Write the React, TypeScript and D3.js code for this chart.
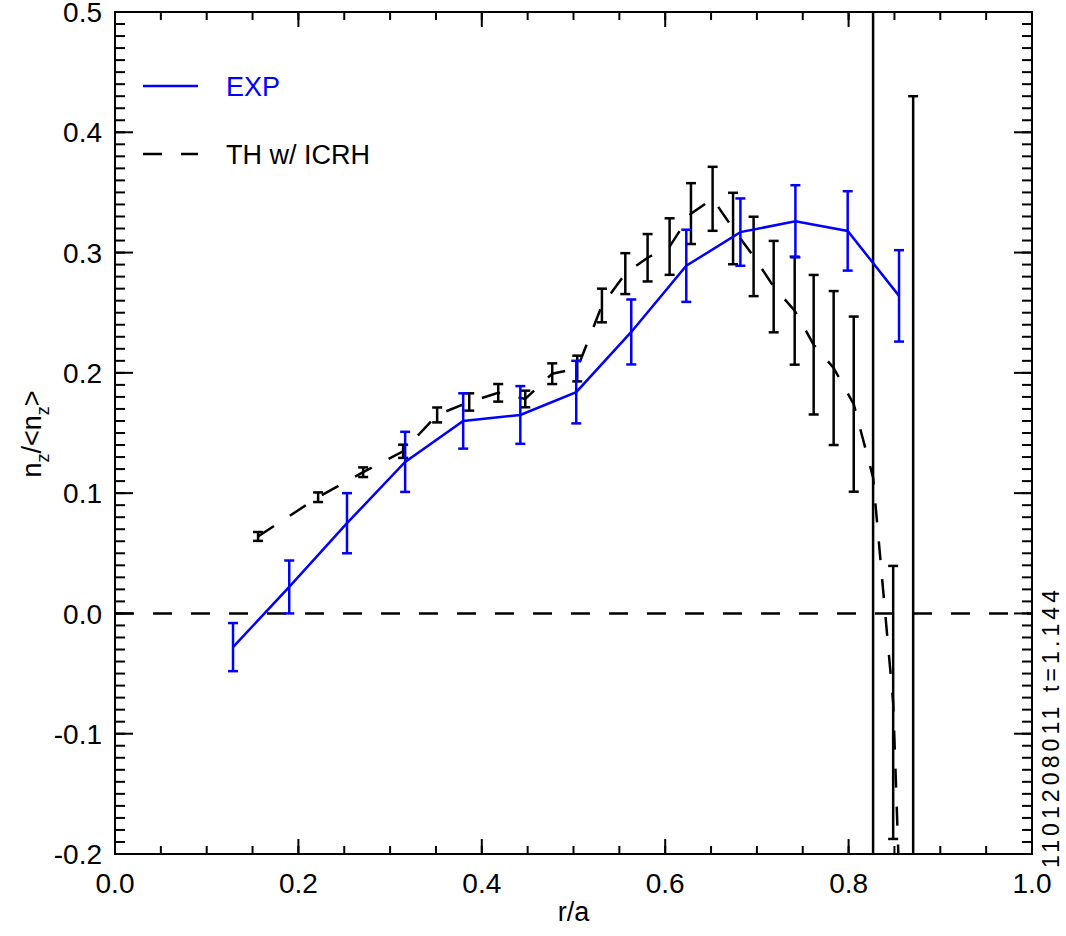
import React from 'react';
import * as d3 from 'd3';

// Experimental profile (blue)
const expR = [0.1287, 0.19, 0.253, 0.3164, 0.3797, 0.442, 0.503, 0.563, 0.623, 0.682, 0.742, 0.799, 0.855];
const expN = [-0.028, 0.022, 0.075, 0.126, 0.16, 0.165, 0.184, 0.234, 0.289, 0.317, 0.326, 0.318, 0.264];
const expErr = [0.02, 0.022, 0.025, 0.025, 0.023, 0.024, 0.026, 0.027, 0.03, 0.028, 0.03, 0.033, 0.038];

// Theory with ICRH (black dashed)
const thR = [0.156, 0.2215, 0.2706, 0.3142, 0.3513, 0.3863, 0.4179, 0.4474, 0.4768, 0.5041, 0.531, 0.5565, 0.5808, 0.6048, 0.6281, 0.6517, 0.674, 0.6964, 0.7183, 0.7412, 0.7619, 0.7837, 0.8056, 0.8267, 0.8486, 0.8704];
const thN = [0.064, 0.0966, 0.1174, 0.1348, 0.165, 0.1758, 0.1834, 0.1783, 0.1993, 0.2036, 0.256, 0.2825, 0.2957, 0.305, 0.3324, 0.3447, 0.32, 0.2968, 0.2717, 0.2517, 0.2234, 0.204, 0.174, 0.113, -0.074, -0.56];
const thErr = [0.0037, 0.004, 0.004, 0.0055, 0.0062, 0.0072, 0.0073, 0.0069, 0.0086, 0.0107, 0.014, 0.017, 0.0197, 0.0235, 0.0253, 0.0266, 0.0297, 0.033, 0.038, 0.0449, 0.058, 0.064, 0.0728, 0.6, 0.1135, 0.99];

const xTickValues = [0, 0.2, 0.4, 0.6, 0.8, 1.0];
const yTickValues = [-0.2, -0.1, 0, 0.1, 0.2, 0.3, 0.4, 0.5];
const xTitle = 'r/a';
const legendLabels = ['EXP', 'TH w/ ICRH'];
const shotLabel = '1101208011  t=1.144';

const FONT = '"Liberation Sans", Arial, Helvetica, sans-serif';
const BLUE = '#0000ff';

export default function App() {
  const W = 1066, H = 936;
  const L = 115, R = 1032, T = 12, B = 854;
  const x = d3.scaleLinear().domain([0, 1]).range([L, R]);
  const y = d3.scaleLinear().domain([-0.2, 0.5]).range([B, T]);

  const xMinor = x.ticks(20);
  const yMinor = y.ticks(70);

  const line = d3.line<[number, number]>().x(d => x(d[0])).y(d => y(d[1]));
  const expPts = expR.map((r, i) => [r, expN[i]] as [number, number]);
  const thPts = thR.map((r, i) => [r, thN[i]] as [number, number]);

  const dash = '19,19';
  const cap = 5;

  const errBars = (rs: number[], ns: number[], es: number[], color: string, key: string) =>
    rs.map((r, i) => {
      const cx = x(r);
      const y1 = y(ns[i] + es[i]);
      const y2 = y(ns[i] - es[i]);
      return (
        <g key={key + i} stroke={color} strokeWidth={2.5} fill="none">
          <line x1={cx} x2={cx} y1={y1} y2={y2} />
          <line x1={cx - cap} x2={cx + cap} y1={y1} y2={y1} />
          <line x1={cx - cap} x2={cx + cap} y1={y2} y2={y2} />
        </g>
      );
    });

  return (
    <svg width={W} height={H} style={{ position: 'absolute', left: 0, top: 0, background: '#fff' }} fontFamily={FONT}>
      <defs>
        <clipPath id="plotclip">
          <rect x={L} y={T} width={R - L} height={B - T} />
        </clipPath>
      </defs>
      <rect x={0} y={0} width={W} height={H} fill="#fff" />

      <g clipPath="url(#plotclip)">
        <line x1={L} x2={R} y1={y(0)} y2={y(0)} stroke="#000" strokeWidth={2.5} strokeDasharray={dash} />
        <path d={line(thPts) || ''} fill="none" stroke="#000" strokeWidth={2.5} strokeDasharray={dash} />
        {errBars(thR, thN, thErr, '#000', 'th')}
        <path d={line(expPts) || ''} fill="none" stroke={BLUE} strokeWidth={2.5} />
        {errBars(expR, expN, expErr, BLUE, 'exp')}
      </g>

      <rect x={L} y={T} width={R - L} height={B - T} fill="none" stroke="#000" strokeWidth={2} />

      <g stroke="#000" strokeWidth={2}>
        {xMinor.map((v, i) => (
          <g key={'xm' + i}>
            <line x1={x(v)} x2={x(v)} y1={B} y2={B - 8} />
            <line x1={x(v)} x2={x(v)} y1={T} y2={T + 8} />
          </g>
        ))}
        {xTickValues.map((v, i) => (
          <g key={'xM' + i}>
            <line x1={x(v)} x2={x(v)} y1={B} y2={B - 15} />
            <line x1={x(v)} x2={x(v)} y1={T} y2={T + 15} />
          </g>
        ))}
        {yMinor.map((v, i) => (
          <g key={'ym' + i}>
            <line x1={L} x2={L + 10} y1={y(v)} y2={y(v)} />
            <line x1={R} x2={R - 10} y1={y(v)} y2={y(v)} />
          </g>
        ))}
        {yTickValues.map((v, i) => (
          <g key={'yM' + i}>
            <line x1={L} x2={L + 18} y1={y(v)} y2={y(v)} />
            <line x1={R} x2={R - 18} y1={y(v)} y2={y(v)} />
          </g>
        ))}
      </g>

      <g fontSize={28} fill="#000">
        {xTickValues.map((v, i) => (
          <text key={'xl' + i} x={x(v)} y={893} textAnchor="middle">{v.toFixed(1)}</text>
        ))}
        {yTickValues.map((v, i) => (
          <text key={'yl' + i} x={102} y={y(v)} dy="0.36em" textAnchor="end">{v.toFixed(1)}</text>
        ))}
      </g>

      <text x={(L + R) / 2} y={921} textAnchor="middle" fontSize={27}>{xTitle}</text>
      <text transform="translate(41,434) rotate(-90)" textAnchor="middle" fontSize={27}>
        <tspan>n</tspan>
        <tspan fontSize={18} dy={8}>z</tspan>
        <tspan dy={-8}>/&lt;n</tspan>
        <tspan fontSize={18} dy={8}>z</tspan>
        <tspan dy={-8}>&gt;</tspan>
      </text>

      <line x1={143} x2={198} y1={86} y2={86} stroke={BLUE} strokeWidth={2.5} />
      <text x={226} y={95.5} fontSize={27} fill={BLUE}>{legendLabels[0]}</text>
      <line x1={143} x2={198} y1={154} y2={154} stroke="#000" strokeWidth={2.5} strokeDasharray={dash} />
      <text x={226} y={164} fontSize={27} fill="#000">{legendLabels[1]}</text>

      <text transform="translate(1059,729) rotate(-90)" textAnchor="middle" fontSize={23} fill="#000"
        textLength={278} lengthAdjust="spacing">{shotLabel}</text>
    </svg>
  );
}
